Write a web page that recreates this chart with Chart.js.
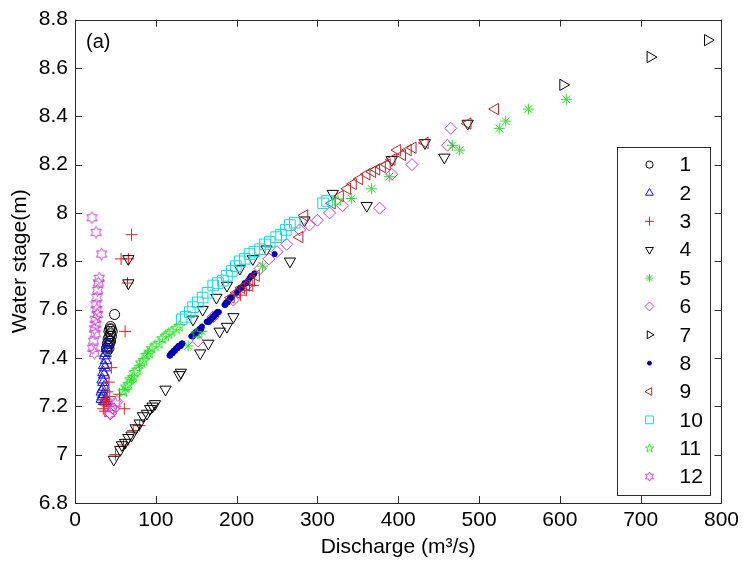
<!DOCTYPE html>
<html>
<head>
<meta charset="utf-8">
<script src="https://cdn.jsdelivr.net/npm/chart.js@4/dist/chart.umd.min.js"></script>
<style>
  html, body { margin: 0; padding: 0; background: #ffffff; }
  #wrap { width: 744px; height: 569px; }
</style>
</head>
<body>
<div id="wrap"><canvas id="c" width="744" height="569"></canvas></div>
<script>
// Stage-discharge observations, one pair of arrays per event (Q in m3/s, H in m)
const q1 = [49, 44, 45, 43, 46, 42, 44, 45, 43, 41, 44, 42, 43, 40, 41, 42, 39, 40];
const h1 = [7.58, 7.53, 7.52, 7.52, 7.51, 7.51, 7.50, 7.49, 7.49, 7.48, 7.47, 7.47, 7.46, 7.46, 7.45, 7.44, 7.44, 7.43];

const q2 = [40, 39, 38, 37, 38, 36, 37, 35, 36, 34, 35, 36, 34, 33, 35, 34, 33, 36, 38];
const h2 = [7.46, 7.44, 7.42, 7.41, 7.39, 7.37, 7.36, 7.34, 7.33, 7.31, 7.30, 7.28, 7.27, 7.26, 7.25, 7.24, 7.23, 7.22, 7.22];

const q3 = [70, 57, 66, 65, 62, 61, 45, 42, 40, 38, 36, 35, 37, 39, 41, 43, 55, 50, 60, 72, 80, 205, 212, 220];
const h3 = [7.91, 7.81, 7.81, 7.71, 7.51, 7.19, 7.36, 7.30, 7.26, 7.23, 7.21, 7.19, 7.18, 7.22, 7.20, 7.24, 7.25, 7.00, 7.04, 7.10, 7.12, 7.66, 7.68, 7.70];

const q4 = [48, 56, 58, 62, 66, 70, 75, 80, 84, 89, 93, 96, 99, 112, 129, 131, 155, 165, 179, 188, 196, 66, 66, 146, 158, 175, 188, 204, 220, 237, 266, 284, 319, 361, 392, 433, 457, 486];
const h4 = [6.98, 7.02, 7.04, 7.05, 7.07, 7.08, 7.11, 7.13, 7.16, 7.17, 7.19, 7.20, 7.21, 7.27, 7.33, 7.34, 7.42, 7.46, 7.51, 7.53, 7.57, 7.81, 7.71, 7.56, 7.60, 7.65, 7.70, 7.77, 7.81, 7.85, 7.80, 7.97, 8.08, 8.03, 8.22, 8.29, 8.23, 8.37];

const q5 = [62, 70, 80, 90, 140, 152, 157, 232, 342, 367, 389, 467, 476, 525, 533, 561, 608];
const h5 = [7.27, 7.31, 7.37, 7.42, 7.45, 7.50, 7.51, 7.78, 8.06, 8.10, 8.15, 8.28, 8.26, 8.35, 8.38, 8.43, 8.47];

const q6 = [44, 48, 52, 152, 171, 196, 212, 229, 240, 250, 262, 278, 290, 300, 315, 331, 377, 392, 417, 461, 465];
const h6 = [7.17, 7.19, 7.22, 7.47, 7.57, 7.64, 7.70, 7.77, 7.81, 7.84, 7.87, 7.93, 7.95, 7.97, 8.00, 8.03, 8.02, 8.16, 8.20, 8.28, 8.35];

const q7 = [604, 712, 783];
const h7 = [8.53, 8.645, 8.715];

const q8 = [117, 118, 119, 120, 121, 122, 123, 124, 125, 126, 127, 128, 129, 130, 131, 132, 133,
            144, 145, 146, 147, 148, 149, 150, 151, 152, 153, 154, 155, 156, 157,
            163, 164, 165, 166, 167, 168, 169, 170, 171, 172, 173, 174, 175, 176, 177, 178,
            185, 186, 187, 188, 189, 190, 191, 192, 193, 194,
            200, 202, 204, 206, 208, 210, 212, 214, 216, 218, 220, 222, 247];
const h8 = [7.41, 7.41, 7.42, 7.42, 7.42, 7.43, 7.43, 7.43, 7.44, 7.44, 7.44, 7.45, 7.45, 7.45, 7.45, 7.46, 7.46,
            7.49, 7.49, 7.49, 7.50, 7.50, 7.50, 7.51, 7.51, 7.51, 7.51, 7.52, 7.52, 7.52, 7.53,
            7.55, 7.55, 7.55, 7.55, 7.56, 7.56, 7.56, 7.57, 7.57, 7.57, 7.58, 7.58, 7.58, 7.59, 7.59, 7.59,
            7.62, 7.62, 7.63, 7.63, 7.63, 7.64, 7.64, 7.65, 7.65, 7.65,
            7.67, 7.68, 7.69, 7.69, 7.70, 7.71, 7.71, 7.72, 7.73, 7.74, 7.74, 7.75, 7.83];

const q9 = [193, 200, 206, 212, 218, 224, 278, 284, 318, 328, 337, 344, 352, 361, 368, 373, 380, 386, 392, 399, 405, 412, 418, 433, 486, 520];
const h9 = [7.65, 7.67, 7.69, 7.70, 7.72, 7.74, 7.90, 7.99, 8.04, 8.07, 8.10, 8.12, 8.14, 8.16, 8.17, 8.18, 8.19, 8.20, 8.22, 8.26, 8.24, 8.26, 8.27, 8.29, 8.37, 8.43];

const q10 = [132, 137, 142, 146, 152, 158, 164, 171, 177, 183, 188, 194, 199, 204, 210, 216, 222, 229, 235, 241, 249, 255, 261, 266, 272, 307, 312];
const h10 = [7.56, 7.57, 7.59, 7.61, 7.63, 7.65, 7.67, 7.70, 7.71, 7.72, 7.74, 7.76, 7.78, 7.80, 7.81, 7.83, 7.84, 7.85, 7.87, 7.88, 7.90, 7.91, 7.93, 7.95, 7.96, 8.04, 8.05];

const q11 = [60, 63, 66, 68, 72, 74, 77, 82, 85, 88, 92, 95, 99, 104, 108, 112, 116, 120, 125, 129, 150, 325];
const h11 = [7.26, 7.28, 7.29, 7.31, 7.32, 7.34, 7.35, 7.38, 7.39, 7.41, 7.42, 7.44, 7.45, 7.46, 7.48, 7.49, 7.50, 7.51, 7.52, 7.53, 7.50, 8.05];

const q12 = [21, 26, 33, 30, 29, 28, 27, 26, 27, 28, 25, 26, 24, 25, 23, 22, 24, 43, 46, 50];
const h12 = [7.98, 7.92, 7.83, 7.73, 7.71, 7.68, 7.65, 7.62, 7.60, 7.58, 7.56, 7.54, 7.52, 7.50, 7.47, 7.44, 7.42, 7.17, 7.19, 7.21];

const seriesNames = ['1', '2', '3', '4', '5', '6', '7', '8', '9', '10', '11', '12'];
const xTicks = [0, 100, 200, 300, 400, 500, 600, 700, 800];
const yTicks = [6.8, 7, 7.2, 7.4, 7.6, 7.8, 8, 8.2, 8.4, 8.6, 8.8];

const FONT = '"Liberation Sans", Arial, sans-serif';
const FSIZE = 21;

// Outline star marker (pentagram / hexagram) rendered into a small canvas
function starImage(points, outerR, innerRatio, color, lw) {
  const pad = Math.ceil(lw) + 1;
  let size = Math.ceil(2 * outerR + 2 * pad);
  if (size % 2 === 0) size += 1;
  const cv = document.createElement('canvas');
  cv.width = size; cv.height = size;
  const g = cv.getContext('2d');
  const c = size / 2;
  g.strokeStyle = color;
  g.lineWidth = lw;
  g.lineJoin = 'miter';
  g.beginPath();
  for (let i = 0; i < 2 * points; i++) {
    const r = i % 2 === 0 ? outerR : outerR * innerRatio;
    const a = -Math.PI / 2 + i * Math.PI / points;
    const px = c + r * Math.cos(a), py = c + r * Math.sin(a);
    if (i === 0) g.moveTo(px, py); else g.lineTo(px, py);
  }
  g.closePath();
  g.stroke();
  return cv;
}

const GREEN = '#2ee02e';
const MAGENTA = '#c93ccf';

// marker definition per event: style, rotation, radius in plot, radius in key, colour, filled
const markers = [
  { style: 'circle',   rot: 0,   r: 5,   lr: 3.6, color: '#000000' },
  { style: 'triangle', rot: 0,   r: 6.5, lr: 4.5, color: '#1010e8' },
  { style: 'cross',    rot: 0,   r: 6,   lr: 4.5, color: '#e02020' },
  { style: 'triangle', rot: 180, r: 6.5, lr: 4.5, color: '#000000' },
  { style: 'star',     rot: 0,   r: 5.5, lr: 4,   color: GREEN },
  { style: 'rectRot',  rot: 0,   r: 6,   lr: 4.5, color: MAGENTA },
  { style: 'triangle', rot: 90,  r: 6.5, lr: 4.5, color: '#000000' },
  { style: 'circle',   rot: 0,   r: 2.6, lr: 2,   color: '#0000b0', filled: true },
  { style: 'triangle', rot: -90, r: 6.5, lr: 4.5, color: '#b52a2a' },
  { style: 'rect',     rot: 0,   r: 7.5, lr: 5.5, color: '#12d8e0' },
  { style: 'penta',    rot: 0,   r: 6,   lr: 4.5, color: GREEN },
  { style: 'hexa',     rot: 0,   r: 6,   lr: 4.5, color: MAGENTA }
];

function styleFor(m, radius) {
  if (m.style === 'penta') return starImage(5, radius, 0.40, m.color, 1);
  if (m.style === 'hexa') return starImage(6, radius, 0.58, m.color, 1);
  return m.style;
}

const qs = [q1, q2, q3, q4, q5, q6, q7, q8, q9, q10, q11, q12];
const hs = [h1, h2, h3, h4, h5, h6, h7, h8, h9, h10, h11, h12];

const datasets = seriesNames.map((name, i) => {
  const m = markers[i];
  return {
    label: name,
    data: qs[i].map((x, k) => ({ x: x, y: hs[i][k] })),
    showLine: false,
    pointStyle: styleFor(m, m.r),
    pointRotation: m.rot,
    pointRadius: m.r,
    pointBorderWidth: 1,
    pointBorderColor: m.color,
    pointBackgroundColor: m.filled ? m.color : 'rgba(0,0,0,0)',
    order: seriesNames.length - i
  };
});

// Box around the axes with inward tick marks on all four sides, plus the panel tag
const boxPlugin = {
  id: 'boxTicks',
  afterDatasetsDraw(chart) {
    const { ctx, chartArea: a, scales } = chart;
    const len = 7;
    ctx.save();
    ctx.strokeStyle = '#2b2b2b';
    ctx.lineWidth = 1;
    ctx.beginPath();
    xTicks.forEach(v => {
      const x = Math.round(scales.x.getPixelForValue(v)) + 0.5;
      ctx.moveTo(x, a.bottom); ctx.lineTo(x, a.bottom - len);
      ctx.moveTo(x, a.top); ctx.lineTo(x, a.top + len);
    });
    yTicks.forEach(v => {
      const y = Math.round(scales.y.getPixelForValue(v)) + 0.5;
      ctx.moveTo(a.left, y); ctx.lineTo(a.left + len, y);
      ctx.moveTo(a.right, y); ctx.lineTo(a.right - len, y);
    });
    ctx.stroke();
    ctx.strokeRect(Math.round(a.left) + 0.5, Math.round(a.top) + 0.5,
                   Math.round(a.right - a.left), Math.round(a.bottom - a.top));
    ctx.fillStyle = '#000';
    ctx.font = '20px ' + FONT;
    ctx.textAlign = 'left';
    ctx.textBaseline = 'middle';
    ctx.fillText('(a)', a.left + 11, a.top + 23);
    ctx.restore();
  }
};

// Key box inside the axes, right side
const keyPlugin = {
  id: 'keyBox',
  afterDraw(chart) {
    const { ctx, chartArea: a } = chart;
    const left = a.right - 104, right = a.right - 11;
    const top = a.top + 127, bottom = a.top + 475;
    ctx.save();
    ctx.fillStyle = '#ffffff';
    ctx.fillRect(left, top, right - left, bottom - top);
    ctx.strokeStyle = '#2b2b2b';
    ctx.lineWidth = 1;
    ctx.strokeRect(Math.round(left) + 0.5, Math.round(top) + 0.5, Math.round(right - left), Math.round(bottom - top));
    const step = (bottom - top - 36) / (seriesNames.length - 1);
    seriesNames.forEach((name, i) => {
      const m = markers[i];
      const y = top + 18 + i * step;
      ctx.strokeStyle = m.color;
      ctx.fillStyle = m.filled ? m.color : 'rgba(0,0,0,0)';
      ctx.lineWidth = 1;
      Chart.helpers.drawPoint(ctx, {
        pointStyle: styleFor(m, m.lr),
        rotation: m.rot,
        radius: m.lr,
        borderWidth: 1
      }, left + 32, y);
      ctx.fillStyle = '#000';
      ctx.font = FSIZE + 'px ' + FONT;
      ctx.textAlign = 'left';
      ctx.textBaseline = 'middle';
      ctx.fillText(name, left + 62, y + 1);
    });
    ctx.restore();
  }
};

new Chart(document.getElementById('c'), {
  type: 'scatter',
  data: { datasets: datasets },
  options: {
    responsive: false,
    devicePixelRatio: 1,
    animation: false,
    layout: { padding: { top: 16, right: 22, bottom: 0, left: 0 } },
    plugins: { legend: { display: false }, tooltip: { enabled: false } },
    scales: {
      x: {
        type: 'linear', min: 0, max: 800,
        afterBuildTicks: s => { s.ticks = xTicks.map(v => ({ value: v })); },
        afterFit: s => { s.height = 66; },
        grid: { display: false, drawTicks: false },
        border: { display: false },
        ticks: { color: '#000', font: { family: FONT, size: FSIZE }, padding: 5, autoSkip: false, maxRotation: 0 },
        title: { display: true, text: 'Discharge (m³/s)', color: '#000', font: { family: FONT, size: FSIZE }, padding: { top: 0, bottom: 9 } }
      },
      y: {
        type: 'linear', min: 6.8, max: 8.8,
        afterBuildTicks: s => { s.ticks = yTicks.map(v => ({ value: v })); },
        afterFit: s => { s.width = 75; },
        grid: { display: false, drawTicks: false },
        border: { display: false },
        ticks: {
          color: '#000', font: { family: FONT, size: FSIZE }, padding: 7, autoSkip: false,
          callback: v => String(Number(v.toFixed(1)))
        },
        title: { display: true, text: 'Water stage(m)', color: '#000', font: { family: FONT, size: FSIZE }, padding: { top: 8, bottom: 0 } }
      }
    }
  },
  plugins: [boxPlugin, keyPlugin]
});
</script>
</body>
</html>
